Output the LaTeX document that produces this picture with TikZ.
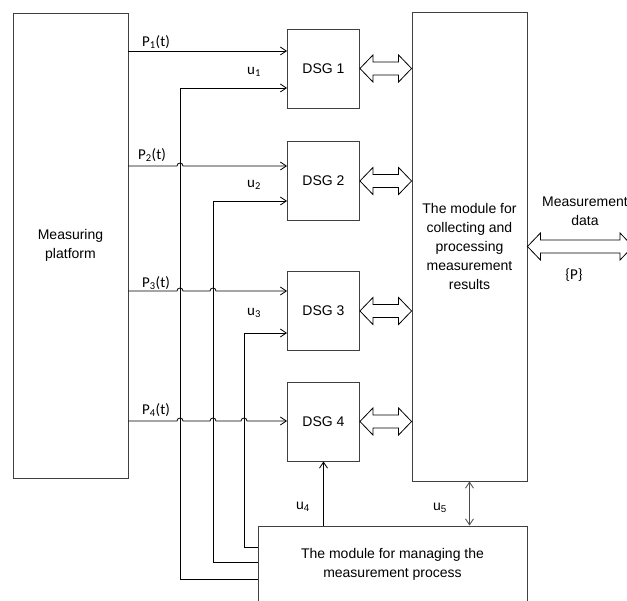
\documentclass[tikz,border=0pt]{standalone}
\usepackage{fontspec}
\setmainfont{Liberation Sans}
\newfontfamily\calfont{Carlito}
\usetikzlibrary{arrows.meta,calc}
\tikzset{
  box/.style={draw=black!75, line width=0.9pt, align=center, inner sep=0pt,
    font=\fontsize{14}{19}\selectfont},
  dsgbox/.style={box, minimum width=72, minimum height=79},
  sig/.style={draw=black, line width=0.8pt},
  sigarr/.style={sig, -{Straight Barb[length=6pt,width=8pt]}},
  lbl/.style={font=\calfont\fontsize{15}{18}\selectfont, inner sep=0pt},
  albl/.style={font=\fontsize{14}{18}\selectfont, inner sep=0pt},
  hollow/.style={draw=black, line width=0.8pt, fill=white, line join=miter}
}
\newcommand{\dblarr}[2]{%
  \draw[hollow] (#1) -- ($(#1)+(13,-13.5)$) -- ($(#1)+(13,-6.5)$)
    -- ($(#2)+(-13,-6.5)$) -- ($(#2)+(-13,-13.5)$) -- (#2)
    -- ($(#2)+(-13,13.5)$) -- ($(#2)+(-13,6.5)$)
    -- ($(#1)+(13,6.5)$) -- ($(#1)+(13,13.5)$) -- cycle;}
\begin{document}
\begin{tikzpicture}[x=1pt,y=-1pt]
\useasboundingbox (0,0) rectangle (627,601);
% boxes
\node[box, minimum width=115, minimum height=465] (plat) at (70.5,245.5) {Measuring\\platform};
\node[dsgbox] (d1) at (323.5,68.5) {DSG 1};
\node[dsgbox] (d2) at (323.5,181) {DSG 2};
\node[dsgbox] (d3) at (323.5,311) {DSG 3};
\node[dsgbox] (d4) at (323.5,421.5) {DSG 4};
\node[box, minimum width=115, minimum height=469] (col) at (469.5,246.5)
  {The module for\\collecting and\\processing\\measurement\\results};
\node[box, minimum width=269, minimum height=76] (mg) at (392.5,564)
  {The module for managing the\\measurement process};
% P signals
\draw[sigarr] (plat.east |- 0,51) -- (d1.west |- 0,51);
\draw[sigarr] (plat.east |- 0,166) -- (177,166) arc[start angle=180,end angle=360,radius=3]
  -- (d2.west |- 0,166);
\draw[sigarr] (plat.east |- 0,291) -- (177,291) arc[start angle=180,end angle=360,radius=3]
  -- (210,291) arc[start angle=180,end angle=360,radius=3] -- (d3.west |- 0,291);
\draw[sigarr] (plat.east |- 0,421) -- (177,421) arc[start angle=180,end angle=360,radius=3]
  -- (210,421) arc[start angle=180,end angle=360,radius=3]
  -- (241,421) arc[start angle=180,end angle=360,radius=3] -- (d4.west |- 0,421);
% u control lines
\draw[sigarr] (mg.west |- 0,579) -| (180,88) -- (d1.west |- 0,88);
\draw[sigarr] (mg.west |- 0,562) -| (213,201) -- (d2.west |- 0,201);
\draw[sigarr] (mg.west |- 0,547) -| (244,333) -- (d3.west |- 0,333);
\draw[sigarr] (mg.north -| d4.south) -- (d4.south);
\draw[sig, draw=black!70, {Straight Barb[length=6pt,width=8pt]}-{Straight Barb[length=6pt,width=8pt]}]
  (col.south) -- (col.south |- mg.north);
% hollow double arrows
\coordinate (c1) at (d1.east -| col.west);
\coordinate (c2) at (d2.east -| col.west);
\coordinate (c3) at (d3.east -| col.west);
\coordinate (c4) at (d4.east -| col.west);
\coordinate (mdEnd) at (633,246.5);
\dblarr{d1.east}{c1}
\dblarr{d2.east}{c2}
\dblarr{d3.east}{c3}
\dblarr{d4.east}{c4}
\dblarr{col.east}{mdEnd}
% labels
\node[lbl] (lp1) at (156,42) {P\textsubscript{1}(t)};
\node[lbl] (lp2) at (152,155) {P\textsubscript{2}(t)};
\node[lbl] (lp3) at (156,283) {P\textsubscript{3}(t)};
\node[lbl] (lp4) at (156,410) {P\textsubscript{4}(t)};
\node[lbl] (lu1) at (254,72) {u\textsubscript{1}};
\node[lbl] (lu2) at (254,185) {u\textsubscript{2}};
\node[lbl] (lu3) at (254,313) {u\textsubscript{3}};
\node[albl] (lu4) at (303,507) {u\textsubscript{4}};
\node[albl] (lu5) at (440,508) {u\textsubscript{5}};
\node[albl, align=center, font=\fontsize{14}{19}\selectfont] (md) at (585,211.5) {Measurement\\data};
\node[lbl] (lP) at (574,275) {\{P\}};
\end{tikzpicture}
\end{document}
